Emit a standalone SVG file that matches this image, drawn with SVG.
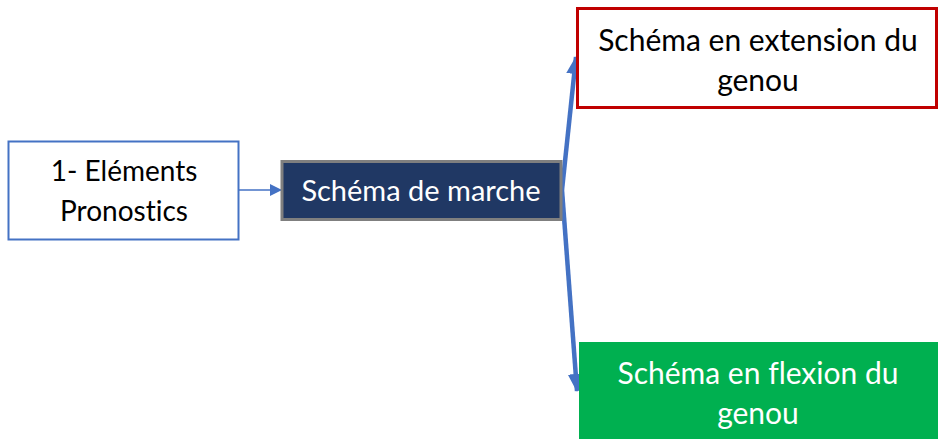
<svg xmlns="http://www.w3.org/2000/svg" width="938" height="439" viewBox="0 0 938 439">
  <style>
    .lbl { font-family: Lato, "Open Sans", "Liberation Sans", sans-serif; text-anchor: middle; dominant-baseline: central; font-variant-ligatures: none; }
    .s28 { font-size: 28px; }
    .s29 { font-size: 29px; }
    .s30 { font-size: 30px; }
    .dark { fill: #000000; }
    .light { fill: #ffffff; }
    .link { stroke: #4472C4; fill: none; }
  </style>
  <defs>
    <marker id="headSmall" markerWidth="12" markerHeight="12" refX="11" refY="6" orient="auto" markerUnits="userSpaceOnUse">
      <path d="M0,0 L12,6 L0,12 Z" fill="#4472C4"/>
    </marker>
    <marker id="headBig" markerWidth="18" markerHeight="16" refX="17" refY="8" orient="auto" markerUnits="userSpaceOnUse">
      <path d="M0,0 L18,8 L0,16 Z" fill="#4472C4"/>
    </marker>
  </defs>

  <g id="connectors">
    <line class="link" x1="239" y1="190" x2="281" y2="190" stroke-width="1.5" marker-end="url(#headSmall)"/>
    <line class="link" x1="562" y1="190" x2="576" y2="57" stroke-width="4.5" marker-end="url(#headBig)"/>
    <line class="link" x1="562" y1="190" x2="577" y2="391" stroke-width="4.5" marker-end="url(#headBig)"/>
  </g>

  <g id="node-elements">
    <rect x="8.5" y="141.5" width="230" height="98" fill="#ffffff" stroke="#4472C4" stroke-width="2"/>
    <text class="lbl s28 dark" x="124" y="170">1- Eléments</text>
    <text class="lbl s28 dark" x="124" y="210">Pronostics</text>
  </g>

  <g id="node-marche">
    <rect x="282" y="161.5" width="279" height="58" fill="#203864" stroke="#7F7F7F" stroke-width="3"/>
    <text class="lbl s29 light" x="421" y="189">Schéma de marche</text>
  </g>

  <g id="node-extension">
    <rect x="577.5" y="8.5" width="359" height="99" fill="#ffffff" stroke="#C00000" stroke-width="3"/>
    <text class="lbl s30 dark" x="758" y="39">Schéma en extension du</text>
    <text class="lbl s30 dark" x="758" y="79">genou</text>
  </g>

  <g id="node-flexion">
    <rect x="579" y="342" width="360" height="98" fill="#00B050"/>
    <text class="lbl s30 light" x="758" y="372">Schéma en flexion du</text>
    <text class="lbl s30 light" x="758" y="412">genou</text>
  </g>
</svg>
